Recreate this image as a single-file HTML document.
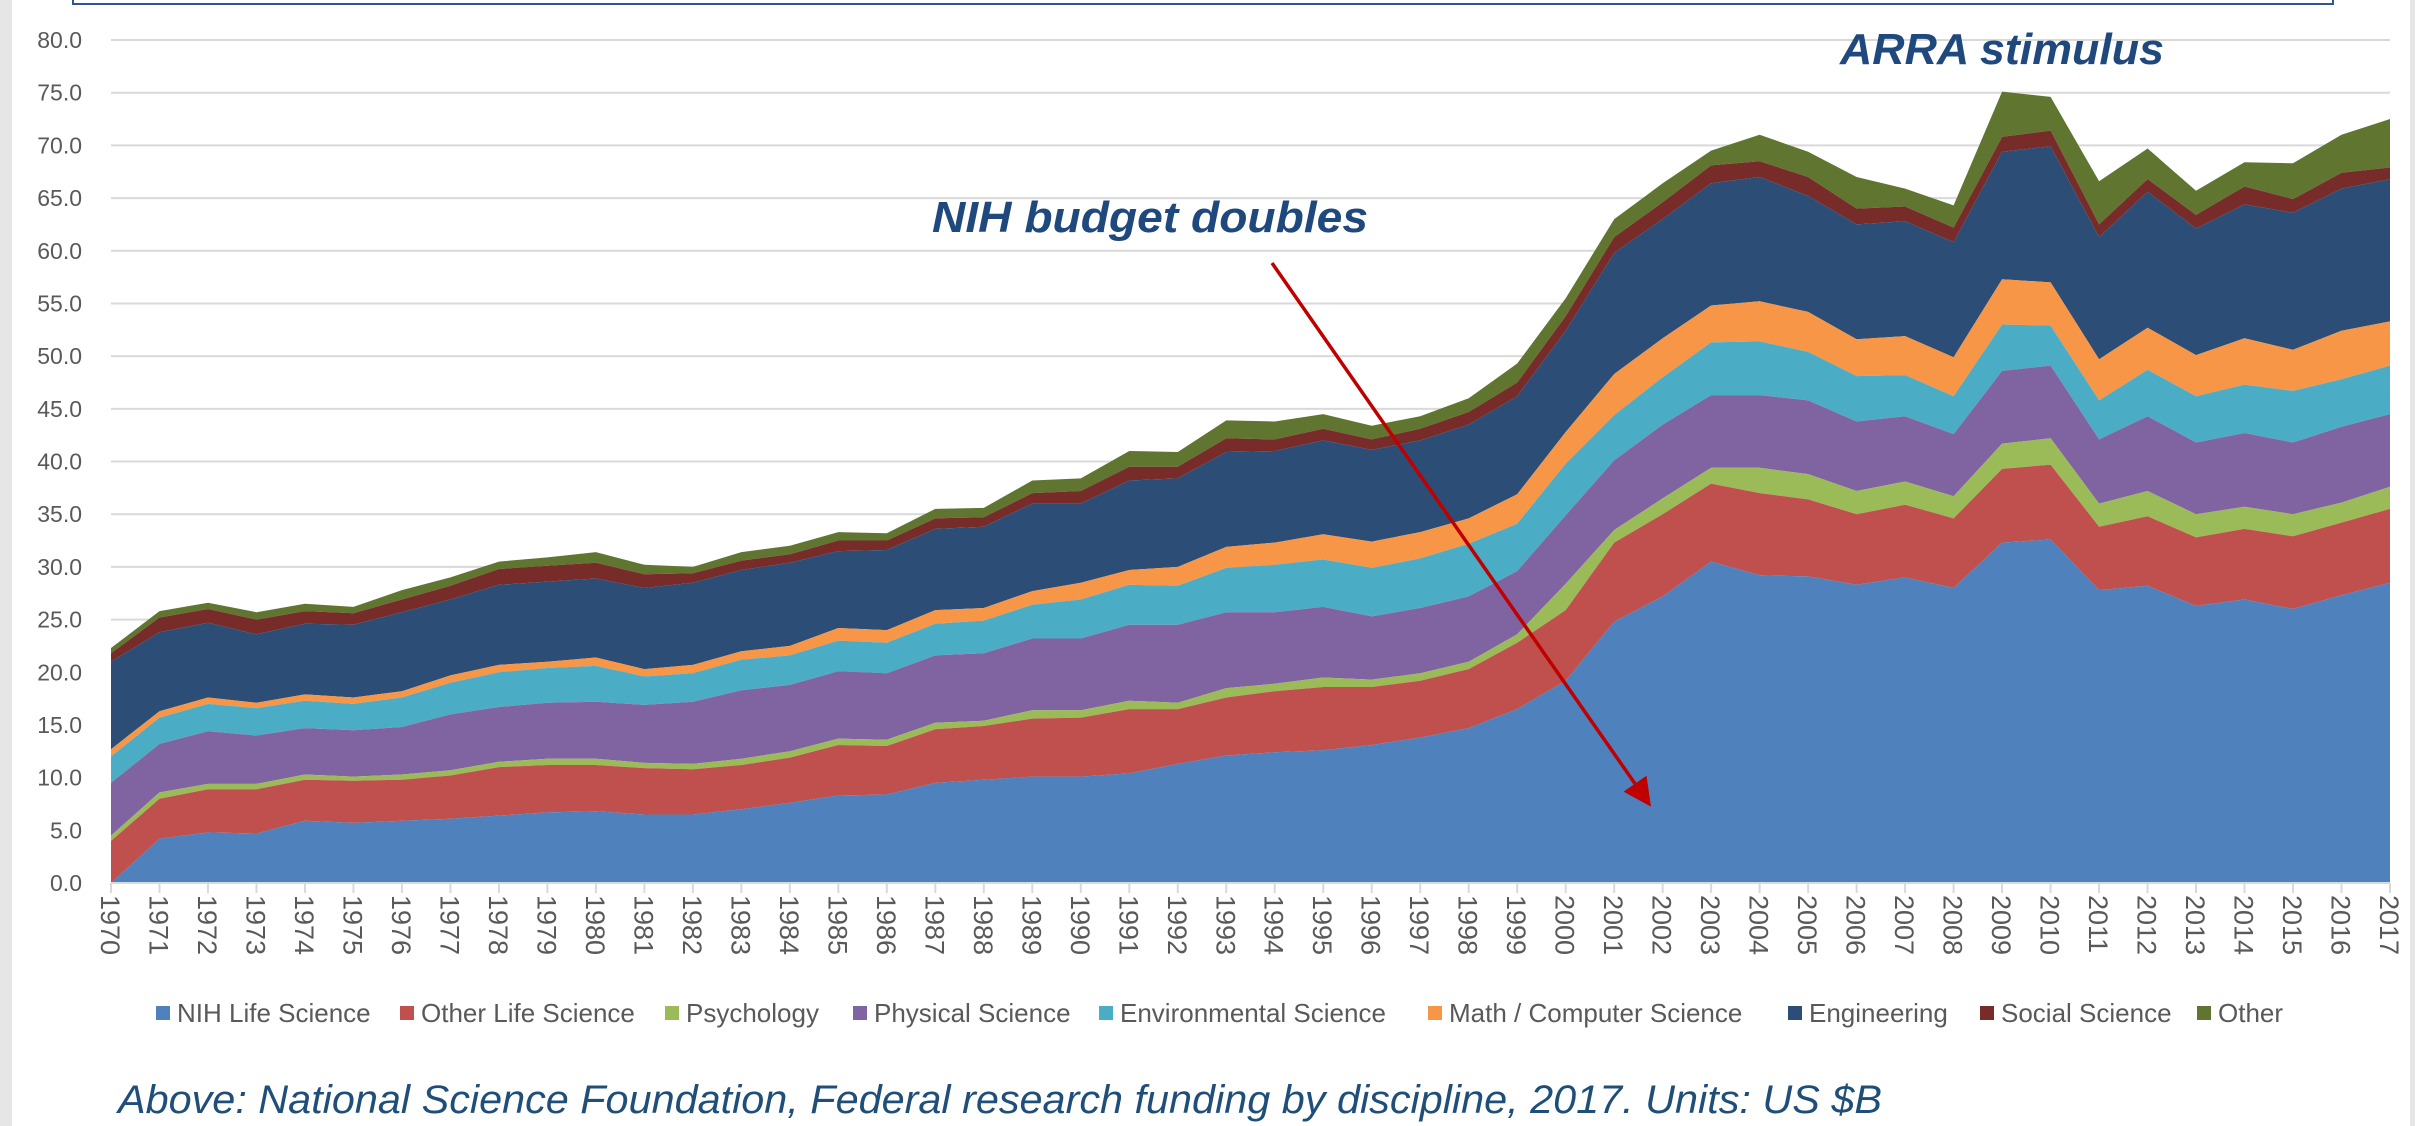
<!DOCTYPE html>
<html><head><meta charset="utf-8"><style>
html,body{margin:0;padding:0;background:#fff}
svg{display:block;font-family:"Liberation Sans",sans-serif}
</style></head><body>
<svg id="chart" width="2415" height="1126" viewBox="0 0 2415 1126" xmlns="http://www.w3.org/2000/svg">
<rect x="0" y="0" width="12" height="1126" fill="#e6e6e6"/>
<rect x="2410" y="0" width="5" height="1126" fill="#e6e6e6"/>
<rect x="73" y="-10" width="2260" height="14" fill="none" stroke="#2f5597" stroke-width="2"/>
<g id="grid"></g>
<g id="areas"></g>
<g id="axes"></g>
<g id="legend"></g>
<text x="932" y="232" font-size="44" font-weight="bold" font-style="italic" fill="#1f497d" textLength="436" lengthAdjust="spacingAndGlyphs">NIH budget doubles</text>
<text x="1840" y="64" font-size="44" font-weight="bold" font-style="italic" fill="#1f497d" textLength="324" lengthAdjust="spacingAndGlyphs">ARRA stimulus</text>
<defs><marker id="ah" markerWidth="8" markerHeight="8" refX="5" refY="4" orient="auto" markerUnits="strokeWidth"><path d="M0,0 L8,4 L0,8 z" fill="#c00000"/></marker></defs>
<line x1="1272" y1="263" x2="1645" y2="798" stroke="#c00000" stroke-width="3.5" marker-end="url(#ah)"/>
<text x="118" y="1113" font-size="40" font-style="italic" fill="#1f4e79" textLength="1764" lengthAdjust="spacingAndGlyphs">Above: National Science Foundation, Federal research funding by discipline, 2017. Units: US $B</text>
</svg>
<script>
const years = [];
for (let y = 1970; y <= 2017; y++) years.push(y);
const yTicks = [0,5,10,15,20,25,30,35,40,45,50,55,60,65,70,75,80];
const seriesNames = ["NIH Life Science","Other Life Science","Psychology","Physical Science","Environmental Science","Math / Computer Science","Engineering","Social Science","Other"];
const seriesColors = ["#4f81bd","#c0504d","#9bbb59","#8064a2","#4bacc6","#f79646","#2c4d75","#772c2a","#5f7530"];
// cumulative (stacked) tops per series, in US $B
const nihTop = [0,4.2,4.8,4.7,5.9,5.7,5.9,6.1,6.4,6.7,6.8,6.5,6.5,7.0,7.6,8.3,8.4,9.5,9.8,10.1,10.1,10.4,11.3,12.1,12.4,12.6,13.1,13.8,14.7,16.5,19.2,24.8,27.2,30.5,29.2,29.1,28.3,29.0,28.0,32.3,32.6,27.8,28.2,26.3,26.9,26.0,27.3,28.5];
const otherLifeTop = [4.0,8.0,8.9,8.9,9.8,9.7,9.8,10.2,11.0,11.2,11.2,10.9,10.8,11.2,11.9,13.1,13.0,14.6,14.9,15.6,15.7,16.5,16.5,17.6,18.2,18.6,18.6,19.2,20.3,22.8,25.9,32.3,35.0,37.9,37.0,36.4,35.0,35.9,34.6,39.3,39.7,33.8,34.8,32.8,33.6,32.9,34.2,35.5];
const psychTop = [4.5,8.6,9.4,9.4,10.3,10.1,10.3,10.7,11.5,11.8,11.8,11.4,11.3,11.8,12.5,13.7,13.6,15.2,15.4,16.4,16.4,17.3,17.1,18.5,18.9,19.5,19.3,19.9,21.0,23.6,28.4,33.5,36.5,39.4,39.4,38.8,37.2,38.1,36.7,41.7,42.2,36.0,37.2,35.0,35.7,35.0,36.1,37.6];
const physTop = [9.5,13.2,14.4,14.0,14.7,14.5,14.8,16.0,16.7,17.1,17.2,16.9,17.2,18.3,18.8,20.1,19.9,21.6,21.8,23.2,23.2,24.5,24.5,25.7,25.7,26.2,25.3,26.1,27.2,29.6,34.9,40.1,43.5,46.3,46.3,45.8,43.8,44.3,42.6,48.6,49.1,42.1,44.3,41.8,42.7,41.8,43.3,44.5];
const envTop = [12.0,15.7,17.0,16.6,17.3,17.0,17.6,19.0,20.0,20.4,20.6,19.6,19.9,21.2,21.6,23.0,22.8,24.6,24.9,26.4,26.9,28.3,28.2,29.9,30.2,30.7,29.9,30.8,32.2,34.1,39.8,44.4,48.0,51.3,51.4,50.4,48.1,48.2,46.2,53.0,52.9,45.8,48.7,46.2,47.3,46.7,47.8,49.1];
const mathTop = [12.7,16.3,17.6,17.1,17.9,17.6,18.2,19.7,20.7,21.0,21.4,20.3,20.7,22.0,22.5,24.2,24.0,25.9,26.1,27.7,28.5,29.7,30.0,31.9,32.3,33.1,32.4,33.3,34.6,36.9,42.8,48.3,51.7,54.8,55.2,54.2,51.6,51.9,49.9,57.3,57.0,49.7,52.7,50.1,51.7,50.6,52.4,53.3];
const engTop = [21.0,23.8,24.7,23.6,24.6,24.5,25.7,26.9,28.3,28.6,28.9,28.0,28.5,29.7,30.4,31.5,31.6,33.6,33.8,36.0,36.0,38.2,38.4,40.9,41.0,42.0,41.1,42.0,43.5,46.2,52.4,59.8,63.0,66.4,67.0,65.2,62.5,62.8,60.8,69.4,69.9,61.3,65.6,62.1,64.4,63.6,65.9,66.8];
const socialTop = [21.8,25.2,26.0,25.0,25.8,25.6,26.9,28.2,29.8,30.1,30.4,29.3,29.4,30.6,31.2,32.5,32.5,34.6,34.7,37.0,37.2,39.5,39.5,42.2,42.1,43.1,42.1,43.1,44.7,47.5,53.8,61.3,64.6,68.1,68.5,67.0,64.0,64.2,62.2,70.8,71.4,62.5,66.8,63.4,66.1,64.9,67.4,67.9];
const otherTop = [22.3,25.8,26.6,25.7,26.5,26.2,27.8,29.0,30.5,30.9,31.4,30.2,30.0,31.4,32.0,33.3,33.2,35.5,35.6,38.2,38.4,41.0,40.9,43.9,43.8,44.5,43.4,44.3,46.0,49.3,55.5,63.0,66.4,69.5,71.0,69.4,67.0,65.9,64.3,75.1,74.6,66.6,69.7,65.7,68.4,68.3,71.0,72.5];
const stackedTops = [nihTop, otherLifeTop, psychTop, physTop, envTop, mathTop, engTop, socialTop, otherTop];
const legendX = [156,400,665,853,1099,1428,1788,1980,2197];

const NS = "http://www.w3.org/2000/svg";
const X0 = 111, X1 = 2390, Y0 = 883, Y80 = 40;
const xScale = i => X0 + (X1 - X0) * i / (years.length - 1);
const yScale = v => Y0 - (Y0 - Y80) * v / 80;
function mk(tag, attrs, parent) {
  const e = document.createElementNS(NS, tag);
  for (const k in attrs) e.setAttribute(k, attrs[k]);
  parent.appendChild(e);
  return e;
}
const grid = document.getElementById('grid');
const axes = document.getElementById('axes');
const areas = document.getElementById('areas');
const legend = document.getElementById('legend');

yTicks.forEach(t => {
  if (t > 0) {
    const l = mk('line', {x1: X0, x2: X1, y1: yScale(t), y2: yScale(t), stroke: '#d9d9d9', 'stroke-width': 2}, grid);
    
    
  }
  const tx = mk('text', {x: 82, y: yScale(t) + 8, 'text-anchor': 'end', 'font-size': 23, fill: '#595959'}, axes);
  tx.textContent = t.toFixed(1);
  
  
});

for (let s = stackedTops.length - 1; s >= 0; s--) {
  const top = stackedTops[s];
  const bot = s > 0 ? stackedTops[s - 1] : null;
  let d = '';
  top.forEach((v, i) => { d += (i ? 'L' : 'M') + xScale(i).toFixed(1) + ',' + yScale(v).toFixed(1); });
  for (let i = years.length - 1; i >= 0; i--) d += 'L' + xScale(i).toFixed(1) + ',' + yScale(bot ? bot[i] : 0).toFixed(1);
  d += 'Z';
  const p = mk('path', {d: d, fill: seriesColors[s]}, areas);
  
  
}

const ax = mk('line', {x1: X0, x2: X1, y1: Y0, y2: Y0, stroke: '#d9d9d9', 'stroke-width': 2}, axes);


years.forEach((yr, i) => {
  const x = xScale(i);
  const tk = mk('line', {x1: x, x2: x, y1: Y0, y2: Y0 + 10, stroke: '#d9d9d9', 'stroke-width': 2}, axes);
  
  
  const t = mk('text', {x: 0, y: 0, 'font-size': 27, fill: '#595959', transform: 'translate(' + (x - 10) + ',' + (Y0 + 12) + ') rotate(90)'}, axes);
  t.textContent = yr;
  
  
});

seriesNames.forEach((n, i) => {
  const g = mk('g', {}, legend);
  
  
  mk('rect', {x: legendX[i], y: 1006, width: 14, height: 14, fill: seriesColors[i]}, g);
  const t = mk('text', {x: legendX[i] + 21, y: 1022, 'font-size': 26, fill: '#595959'}, g);
  t.textContent = n;
});
</script>
</body></html>
